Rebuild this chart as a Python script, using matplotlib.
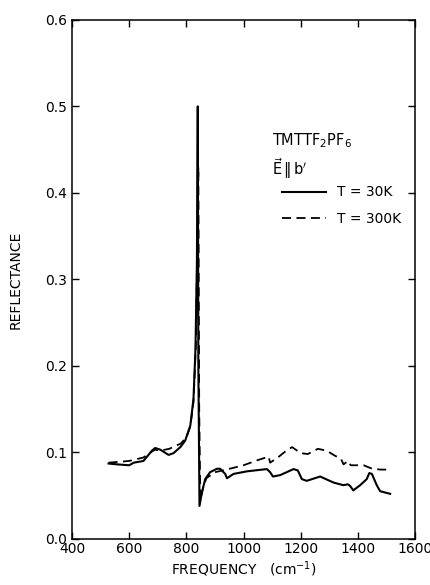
import numpy as np
import matplotlib
matplotlib.use("Agg")
import matplotlib.pyplot as plt

plt.rcParams.update({
    "font.family": "DejaVu Sans", "font.size": 10, "mathtext.fontset": "dejavusans",
    "axes.linewidth": 1.1, "xtick.direction": "in", "ytick.direction": "in",
    "xtick.major.size": 5, "ytick.major.size": 5,
})

# T = 30 K (solid)
f_30 = [528, 560, 600, 616, 650, 680, 691, 709, 738, 755, 779, 796, 814, 825, 832, 837,
        840, 842, 846, 854, 866, 883, 907, 918, 936, 942, 965, 1012, 1082, 1093, 1103,
        1128, 1175, 1190, 1204, 1221, 1268, 1315, 1349, 1365, 1373, 1384, 1408, 1431,
        1440, 1449, 1466, 1478, 1513]
r_30 = [0.087, 0.086, 0.085, 0.088, 0.090, 0.102, 0.105, 0.103, 0.097, 0.099, 0.106,
        0.1135, 0.131, 0.162, 0.22, 0.32, 0.50, 0.20, 0.038, 0.053, 0.069, 0.077, 0.081,
        0.081, 0.075, 0.070, 0.075, 0.078, 0.0806, 0.077, 0.072, 0.0736, 0.0806, 0.079,
        0.069, 0.067, 0.072, 0.065, 0.062, 0.063, 0.061, 0.056, 0.062, 0.069, 0.076,
        0.075, 0.062, 0.055, 0.052]

# T = 300 K (dashed)
f_300 = [528, 600, 650, 680, 691, 710, 740, 780, 800, 814, 825, 833, 838, 842, 845, 849,
         858, 870, 900, 940, 1000, 1050, 1088, 1093, 1120, 1150, 1170, 1200, 1225, 1260,
         1290, 1320, 1340, 1350, 1365, 1375, 1420, 1450, 1480, 1510]
r_300 = [0.088, 0.090, 0.094, 0.101, 0.103, 0.102, 0.104, 0.110, 0.117, 0.130, 0.158,
         0.22, 0.33, 0.43, 0.15, 0.045, 0.058, 0.070, 0.077, 0.080, 0.085, 0.091, 0.095,
         0.088, 0.094, 0.102, 0.106, 0.099, 0.098, 0.104, 0.102, 0.096, 0.093, 0.086,
         0.090, 0.085, 0.085, 0.081, 0.080, 0.080]

x_ticks = [400, 600, 800, 1000, 1200, 1400, 1600]
y_ticks = [0.0, 0.1, 0.2, 0.3, 0.4, 0.5, 0.6]

fig = plt.figure(figsize=(4.31, 5.85), dpi=100)
ax = fig.add_axes([0.167, 0.079, 0.796, 0.887])
ax.plot(f_30, r_30, color="black", lw=1.5, label="T = 30K")
ax.plot(f_300, r_300, color="black", lw=1.3, ls=(0, (5, 3)), label="T = 300K")

ax.set_xlim(400, 1600)
ax.set_ylim(0, 0.6)
ax.set_xticks(x_ticks)
ax.set_yticks(y_ticks)
ax.set_yticklabels([f"{v:.1f}" for v in y_ticks])
ax.tick_params(top=True, right=True, labelsize=10, width=1.0)
ax.tick_params(axis="x", pad=2)
ax.set_xlabel("FREQUENCY   (cm$^{-1}$)", fontsize=10, labelpad=3)
ax.set_ylabel("REFLECTANCE", fontsize=10, labelpad=16)

ax.text(1100, 0.46, "TMTTF$_2$PF$_6$", fontsize=10.5, va="center")
ax.text(1100, 0.428, r"$\vec{\mathrm{E}}\,\Vert\,\mathrm{b}^{\prime}$", fontsize=10.5, va="center")
ax.legend(loc="upper left", bbox_to_anchor=(0.575, 0.705), frameon=False, fontsize=10,
          handlelength=3.2, handletextpad=0.8, labelspacing=0.9)

fig.savefig("out.png", dpi=100)
